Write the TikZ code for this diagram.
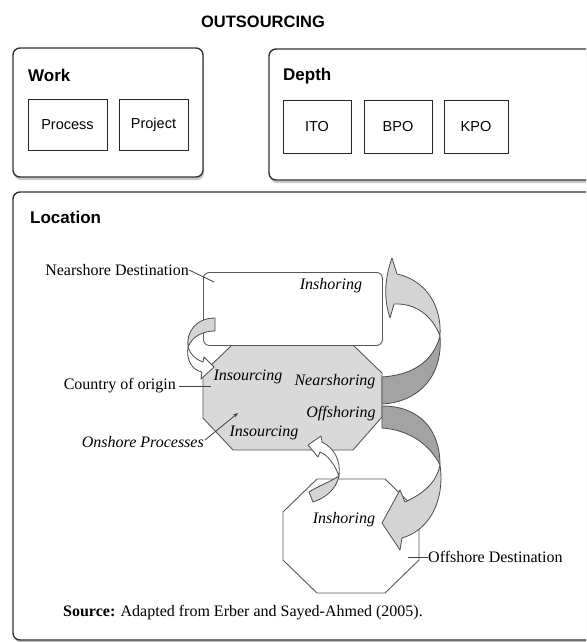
\documentclass[tikz,border=0pt]{standalone}
\usepackage{fontspec}
\setmainfont{Liberation Serif}
\setsansfont{Liberation Sans}
\usetikzlibrary{shadows,arrows.meta}
\definecolor{darkrib}{HTML}{A3A3A3}
\definecolor{lightrib}{HTML}{D4D4D4}
\definecolor{octfill}{HTML}{D9D9D9}
\begin{document}
\begin{tikzpicture}[x=1pt,y=-1pt,
  outerbox/.style={draw=black!80, line width=1.4pt, rounded corners=7pt, fill=white, inner sep=0pt, outer sep=0pt,
    drop shadow={shadow xshift=1pt, shadow yshift=-3pt, opacity=0.45}},
  innerbox/.style={draw=black!85, line width=0.9pt, inner sep=0pt, outer sep=0pt, font=\sffamily\fontsize{14.5}{16}\selectfont},
  header/.style={anchor=west, inner sep=0pt, font=\sffamily\bfseries\fontsize{17}{19}\selectfont},
  lbl/.style={inner sep=0pt, font=\fontsize{16}{18}\selectfont},
  ilbl/.style={inner sep=0pt, font=\itshape\fontsize{16}{18}\selectfont},
  shapeline/.style={draw=black!65, line width=0.9pt},
  ribbon/.style={draw=black!70, line width=0.8pt, line join=round},
  leader/.style={draw=black!75, line width=0.8pt},
]
\useasboundingbox (0,0) rectangle (586,642);
\clip (0,0) rectangle (586,642);

% title
\node[inner sep=0pt, font=\sffamily\bfseries\fontsize{16.5}{18}\selectfont] (title) at (263,22) {OUTSOURCING};

% Work
\node[outerbox, anchor=north west, minimum width=190pt, minimum height=129pt] (work) at (13,48) {};
\node[header] (worklbl) at (28,75) {Work};
\node[innerbox, anchor=north west, minimum width=79pt, minimum height=51pt] (process) at (28,99) {Process};
\node[innerbox, anchor=north west, minimum width=69pt, minimum height=51pt] (project) at (119,99) {Project};

% Depth
\node[outerbox, anchor=north west, minimum width=350pt, minimum height=131pt] (depth) at (269,49) {};
\node[header] (depthlbl) at (283,76) {Depth};
\node[innerbox, anchor=north west, minimum width=68pt, minimum height=53pt] (ito) at (283,100) {ITO};
\node[innerbox, anchor=north west, minimum width=68pt, minimum height=53pt] (bpo) at (364,100) {BPO};
\node[innerbox, anchor=north west, minimum width=64pt, minimum height=53pt] (kpo) at (444,100) {KPO};

% Location
\node[outerbox, anchor=north west, minimum width=620pt, minimum height=448pt] (loc) at (13,192) {};
\node[header] (loclbl) at (30,217) {Location};

% country of origin octagon
\coordinate (o1) at (232,345); \coordinate (o2) at (353,345);
\coordinate (o3) at (382,373); \coordinate (o4) at (382,417);
\coordinate (o5) at (353,450); \coordinate (o6) at (233,450);
\coordinate (o7) at (203,418); \coordinate (o8) at (203,373);
\draw[shapeline, fill=octfill] (o1) -- (o2) -- (o3) -- (o4) -- (o5) -- (o6) -- (o7) -- (o8) -- cycle;

% nearshore rectangle
\node[shapeline, rounded corners=6pt, fill=white, anchor=north west, inner sep=0pt,
      minimum width=179pt, minimum height=73pt] (near) at (203,272) {};

% offshore octagon
\coordinate (f1) at (317,479); \coordinate (f2) at (385,479);
\coordinate (f3) at (419,512); \coordinate (f4) at (419,560);
\coordinate (f5) at (385,593); \coordinate (f6) at (317,593);
\coordinate (f7) at (283,560); \coordinate (f8) at (283,512);
\draw[shapeline, fill=white] (f1) -- (f2) -- (f3) -- (f4) -- (f5) -- (f6) -- (f7) -- (f8) -- cycle;

% upper big arrow (Nearshoring)
\draw[ribbon, fill=darkrib] (382,377) .. controls (412,375) and (433,362) .. (440,336)
   .. controls (443,375) and (420,402) .. (382,404) -- cycle;
\draw[ribbon, fill=lightrib] (440,336) .. controls (442,305) and (425,280) .. (397,274)
   -- (392,258) .. controls (384,280) and (384,300) .. (390,318) -- (394,304)
   .. controls (415,303) and (432,315) .. (440,336) -- cycle;

% lower big arrow (Offshoring)
\draw[ribbon, fill=darkrib] (382,406) .. controls (420,406) and (440,430) .. (440,465)
   .. controls (430,445) and (410,430) .. (382,428) -- cycle;
\draw[ribbon, fill=lightrib] (440,465) .. controls (445,500) and (430,530) .. (402,538)
   -- (400,550) -- (382,523) -- (400,490) -- (405,502)
   .. controls (420,495) and (436,485) .. (440,465) -- cycle;

% small arrow from nearshore destination to origin
\draw[ribbon, fill=lightrib] (215,318) .. controls (196,318) and (186,332) .. (188,347)
   .. controls (192,337) and (202,331) .. (215,331) -- cycle;
\draw[ribbon, fill=white] (188,347) .. controls (186,360) and (192,370) .. (202,372)
   -- (201,379) -- (214,367) -- (204,357) -- (203,362)
   .. controls (196,360) and (190,354) .. (188,347) -- cycle;

% small arrow from offshore destination to origin
\draw[ribbon, fill=lightrib] (339,476) .. controls (330,482) and (318,486) .. (309,492)
   -- (313,502) .. controls (325,498) and (336,490) .. (339,476) -- cycle;
\draw[ribbon, fill=white] (339,476) .. controls (341,460) and (334,448) .. (322,442)
   -- (321,436) -- (308,445) -- (318,457) -- (320,452)
   .. controls (328,455) and (335,465) .. (339,476) -- cycle;

% labels inside shapes
\node[ilbl] (insh1) at (331,286) {Inshoring};
\node[ilbl] (inso1) at (248,377) {Insourcing};
\node[ilbl] (nearsh) at (335,382) {Nearshoring};
\node[ilbl] (offsh) at (341,414) {Offshoring};
\node[ilbl] (inso2) at (264,433) {Insourcing};
\node[ilbl] (insh2) at (344,520) {Inshoring};

% outside labels and leaders
\node[lbl, anchor=east] (ndest) at (189,270) {Nearshore Destination};
\coordinate (ndp) at (214,282);
\draw[leader] (ndest.east) -- (ndp);

\node[lbl, anchor=east] (coo) at (176,386) {Country of origin};
\coordinate (coop) at (211,386);
\draw[leader] ([xshift=3pt]coo.east) -- (coop);

\node[ilbl, anchor=east] (onp) at (204,442) {Onshore Processes};
\coordinate (onpp) at (238,413);
\draw[leader, -{Stealth[length=5pt,width=4pt]}] ([xshift=1pt,yshift=2pt]onp.east) -- (onpp);

\node[lbl, anchor=west] (odest) at (428,557) {Offshore Destination};
\coordinate (odp) at (408,557);
\draw[leader] (odp) -- (odest.west);

\node[lbl, anchor=west] (src) at (63,613) {\textbf{Source:} Adapted from Erber and Sayed-Ahmed (2005).};
\end{tikzpicture}
\end{document}
